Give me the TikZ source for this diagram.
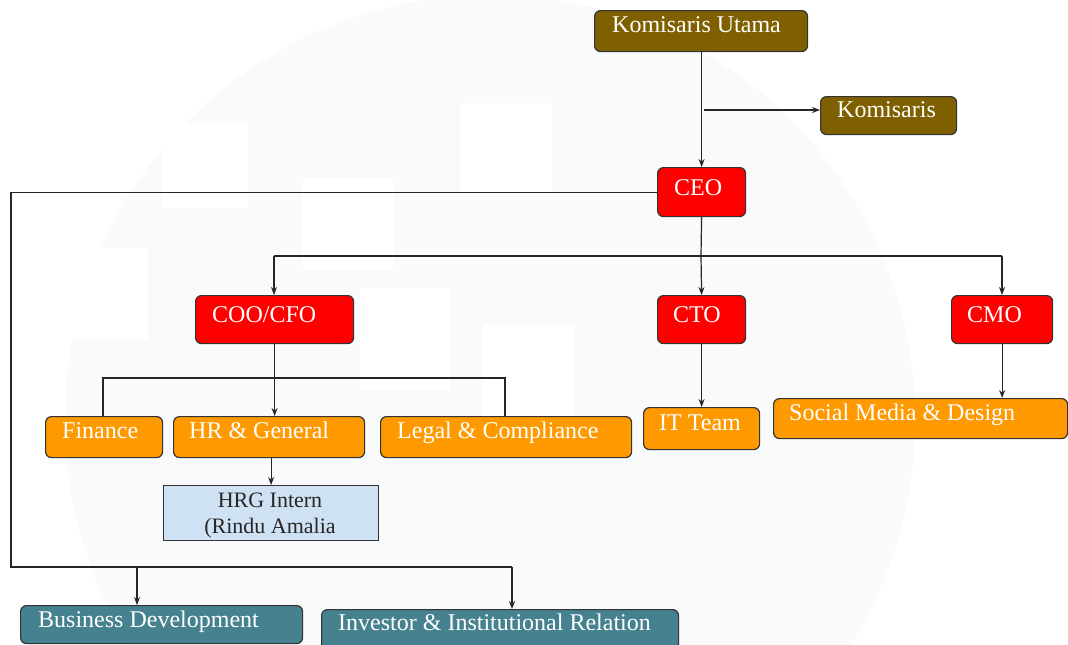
\documentclass[tikz,border=0pt]{standalone}
\usepackage{fontspec}
\setmainfont{Liberation Serif}
\usetikzlibrary{arrows.meta}
\definecolor{wmgray}{HTML}{F9FAFC}
\definecolor{kbrown}{HTML}{7F6000}
\definecolor{kred}{HTML}{FF0000}
\definecolor{korange}{HTML}{FF9900}
\definecolor{kteal}{HTML}{45818E}
\definecolor{kblue}{HTML}{CFE2F3}
\definecolor{kline}{HTML}{333333}
\tikzset{
  box/.style={draw=kline, line width=1.2pt, rounded corners=6pt, anchor=north west, inner sep=0pt},
  sqbox/.style={draw=kline, line width=1.2pt, anchor=north west, inner sep=0pt},
  lbl/.style={anchor=base west, inner sep=0pt, text=white, font=\fontsize{24}{28}\selectfont},
  conn/.style={draw=black!85, line width=1.2pt},
  arr/.style={conn, -{Stealth[length=8pt,width=6pt]}}
}
\begin{document}
\begin{tikzpicture}[x=1pt,y=-1pt]
\useasboundingbox (0,0) rectangle (1068,645);
% faint watermark
\begin{scope}
\clip (0,0) rectangle (1068,645);
\fill[wmgray] (490,420) circle[radius=425];
\fill[white] (163,123) rectangle (248,208);
\fill[white] (303,178) rectangle (393,270);
\fill[white] (460,103) rectangle (552,192);
\fill[white] (360,288) rectangle (450,390);
\fill[white] (483,325) rectangle (575,420);
\fill[white] (60,248) rectangle (148,340);
\end{scope}
% boxes
\node[box, fill=kbrown, minimum width=213pt, minimum height=41pt] (ku) at (594,10) {};
\node[box, fill=kbrown, minimum width=136pt, minimum height=38pt] (kom) at (820,96) {};
\node[box, fill=kred, minimum width=88pt, minimum height=49pt] (ceo) at (657,167) {};
\node[box, fill=kred, minimum width=158pt, minimum height=48pt] (coo) at (195,295) {};
\node[box, fill=kred, minimum width=88pt, minimum height=48pt] (cto) at (657,295) {};
\node[box, fill=kred, minimum width=101pt, minimum height=48pt] (cmo) at (951,295) {};
\node[box, fill=korange, minimum width=117pt, minimum height=41pt] (fin) at (45,416) {};
\node[box, fill=korange, minimum width=191pt, minimum height=41pt] (hr) at (173,416) {};
\node[box, fill=korange, minimum width=251pt, minimum height=41pt] (legal) at (380,416) {};
\node[box, fill=korange, minimum width=116pt, minimum height=42pt] (it) at (643,407) {};
\node[box, fill=korange, minimum width=294pt, minimum height=40pt] (smd) at (773,398) {};
\node[sqbox, fill=kblue, minimum width=215pt, minimum height=55pt] (hrg) at (163,485) {};
\node[box, fill=kteal, minimum width=282pt, minimum height=38pt] (bd) at (20,605) {};
\node[box, fill=kteal, minimum width=357pt, minimum height=40pt] (inv) at (321,609) {};
% labels
\node[lbl] (tku) at (612,32) {Komisaris Utama};
\node[lbl] (tkom) at (837,117) {Komisaris};
\node[lbl] (tceo) at (674,195) {CEO};
\node[lbl] (tcoo) at (212,322) {COO/CFO};
\node[lbl] (tcto) at (673,322) {CTO};
\node[lbl] (tcmo) at (967,322) {CMO};
\node[lbl] (tfin) at (62,438) {Finance};
\node[lbl] (thr) at (189,438) {HR \& General};
\node[lbl] (tlegal) at (397,438) {Legal \& Compliance};
\node[lbl] (tit) at (659,430) {IT Team};
\node[lbl] (tsmd) at (789,420) {Social Media \& Design};
\node[lbl] (tbd) at (38,627) {Business Development};
\node[lbl] (tinv) at (338,630) {Investor \& Institutional Relation};
\node[anchor=base, inner sep=0pt, text=black!85, font=\fontsize{22}{26}\selectfont] (thrg1) at (270,507) {HRG Intern};
\node[anchor=base, inner sep=0pt, text=black!85, font=\fontsize{22}{26}\selectfont] (thrg2) at (270,533) {(Rindu Amalia};
% junction coordinates
\coordinate (kb) at (704,110);
\coordinate (bl) at (11,567);
\coordinate (br) at (512,567);
\coordinate (bdj) at (137,567);
\coordinate (cj) at (701,256);
\coordinate (cl) at (274,256);
\coordinate (cr) at (1002,256);
\coordinate (fl) at (103,378);
\coordinate (lr) at (505,378);
% connectors
\draw[arr] (ceo.north |- ku.south) -- (ceo.north);
\draw[arr] (kb) -- (kb -| kom.west);
\draw[conn] (ceo.west) -| (bl) -- (br);
\draw[arr] (bdj) -- (bdj |- bd.north);
\draw[arr] (br) -- (br |- inv.north);
\draw[conn] (ceo.south) -- (cj);
\draw[conn] (cl) -- (cr);
\draw[arr] (cl) -- (cl |- coo.north);
\draw[arr] (cj) -- (cto.north);
\draw[arr] (cr) -- (cr |- cmo.north);
\draw[arr] (coo.south) -- (coo.south |- hr.north);
\draw[conn] (fl |- fin.north) -- (fl) -- (lr) -- (lr |- legal.north);
\draw[arr] (hrg.north |- hr.south) -- (hrg.north);
\draw[arr] (cto.south) -- (cto.south |- it.north);
\draw[arr] (cmo.south) -- (cmo.south |- smd.north);
\end{tikzpicture}
\end{document}
